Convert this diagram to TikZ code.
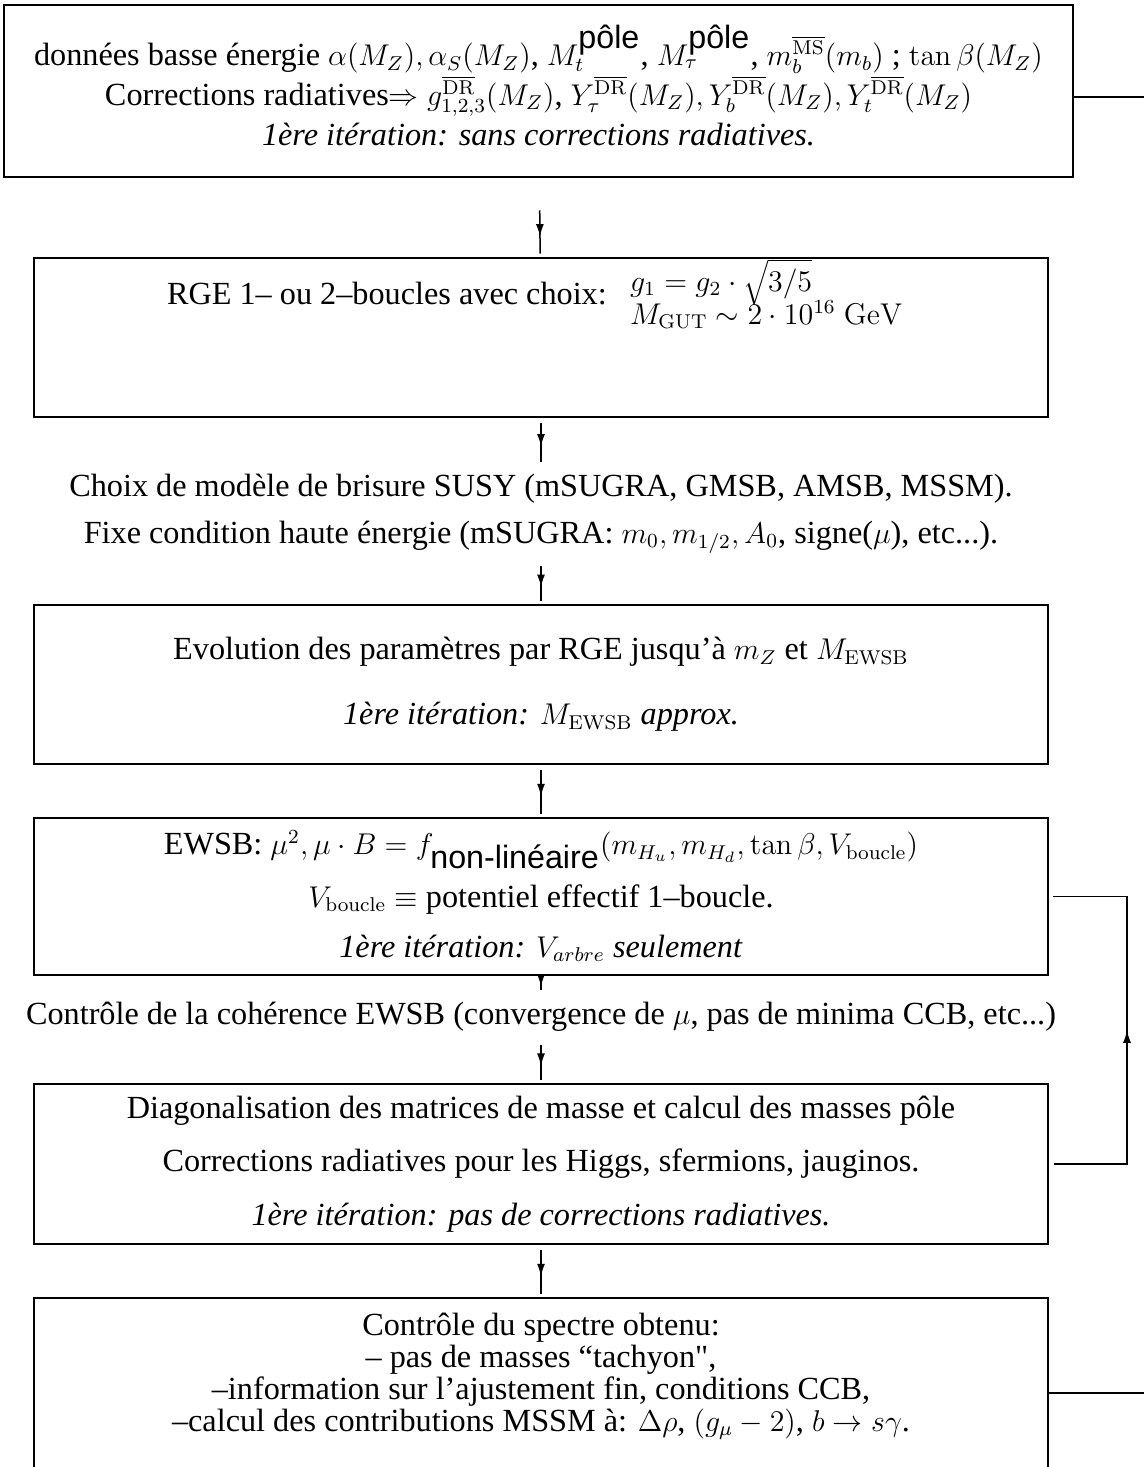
\documentclass[tikz,border=0pt,12pt]{standalone}
\usepackage[no-math]{fontspec}
\setmainfont[Scale=1.075]{Liberation Serif}
\setsansfont[Scale=1.075]{Liberation Sans}
\newfontfamily\droit[Scale=1.075]{Liberation Serif}
\usetikzlibrary{arrows.meta,decorations.markings}

\tikzset{
    boite/.style={draw, minimum width=405.6pt, align=center, inner sep=0pt},
    texte/.style={align=center, inner sep=3pt},
    fleche/.style={shorten <=2pt, shorten >=1.5pt, postaction={decorate},
        decoration={markings, mark=at position #1 with {\arrow{Latex[length=5pt,width=3.2pt]}}}},
    fleche/.default=0.6
}

\begin{document}
\begin{tikzpicture}[x=0.4pt, y=-0.4pt, line width=0.6pt]
    \useasboundingbox (0,0) rectangle (1144,1467);
    \clip (0,0) rectangle (1144,1467);

    \node[boite, minimum width=427.6pt, minimum height=68.8pt] (1) at (538.5,91)
    {données basse énergie $\alpha(M_Z), \alpha_S(M_Z)$, $M_t^{\mbox{\sffamily pôle}}$, $M_\tau^{\mbox{\sffamily pôle}}$, $m_b^{\overline{\rm MS}}(m_b)$ ; $\tan\beta(M_Z)$\\
    Corrections radiatives$\Rightarrow g_{1,2,3}^{\overline{\rm DR}}(M_Z)$, $Y_\tau^{\overline{\rm DR}}(M_Z), Y_b^{\overline{\rm DR}}(M_Z), Y_t^{\overline{\rm DR}}(M_Z)$\\[1.5pt]
    \textit{1ère itération: sans corrections radiatives.}\\[-10pt]\mbox{}};

    \node[boite, minimum height=63.6pt] (2) at (541,337.5)
    {RGE 1– ou 2–boucles avec choix: $\begin{array}{l} g_1 = g_2\cdot\sqrt{3/5}\\[-2.4pt] M_{\rm GUT}\sim 2\cdot 10^{16}~{\rm GeV}\end{array}$\\[30pt]\mbox{}};

    \node[texte] (3) at (541,513.5)
    {Choix de modèle de brisure SUSY (mSUGRA, GMSB, AMSB, MSSM).\\[4.3pt]
    Fixe condition haute énergie (mSUGRA: $m_0, m_{1/2}, A_0$, signe($\mu$), etc...).};

    \node[boite, minimum height=63.6pt] (4) at (541,684.5)
    {Evolution des paramètres par RGE jusqu'à $m_Z$ et $M_{\rm EWSB}$\\[11.5pt]
    \textit{1ère itération: $M_{\rm EWSB}$ approx.}};

    \node[boite, minimum height=62.8pt] (5) at (541,896.5)
    {EWSB: $\mu^2, \mu\cdot B = f_{\mbox{\sffamily non-linéaire}}(m_{H_u}, m_{H_d}, \tan\beta, V_{\rm boucle})$\\[5.5pt]
    $V_{\rm boucle}\equiv$ potentiel effectif 1–boucle.\\[5.5pt]
    \textit{1ère itération: $V_{arbre}$ seulement}};

    \node[texte] (6) at (541,1017)
    {Contrôle de la cohérence EWSB (convergence de $\mu$, pas de minima CCB, etc...)};

    \node[boite, minimum height=64pt] (7) at (541,1164)
    {Diagonalisation des matrices de masse et calcul des masses pôle\\[7pt]
    Corrections radiatives pour les Higgs, sfermions, jauginos.\\[7pt]
    \textit{1ère itération: pas de corrections radiatives.}};

    \node[boite, minimum height=76.8pt] (8) at (541,1394)
    {Contrôle du spectre obtenu:\\[-1.7pt]
    – pas de masses ``tachyon{\droit"},\\[-1.7pt]
    –information sur l’ajustement fin, conditions CCB,\\[-1.7pt]
    –calcul des contributions MSSM à: $\Delta\rho$, $(g_\mu-2)$, $b\rightarrow s\gamma$.\\[3pt]\mbox{}};

    \coordinate (9) at (1127,0);
    \coordinate (10) at (1150,97);
    \coordinate (11) at (1150,1393);

    \draw[fleche=0.74, shorten <=13pt] (1) -- (2);
    \draw[fleche] (2) -- (3);
    \draw[fleche] (3) -- (4);
    \draw[fleche] (4) -- (5);
    \draw[fleche] (5) -- (6);
    \draw[fleche] (6) -- (7);
    \draw[fleche] (7) -- (8);

    \draw[fleche=0.5] (7.east) -- (9 |- 7.east) -- (9 |- 5.east) -- (5.east);
    \draw (10 -| 1.east) -- (10);
    \draw (11 -| 8.east) -- (11);
\end{tikzpicture}
\end{document}
